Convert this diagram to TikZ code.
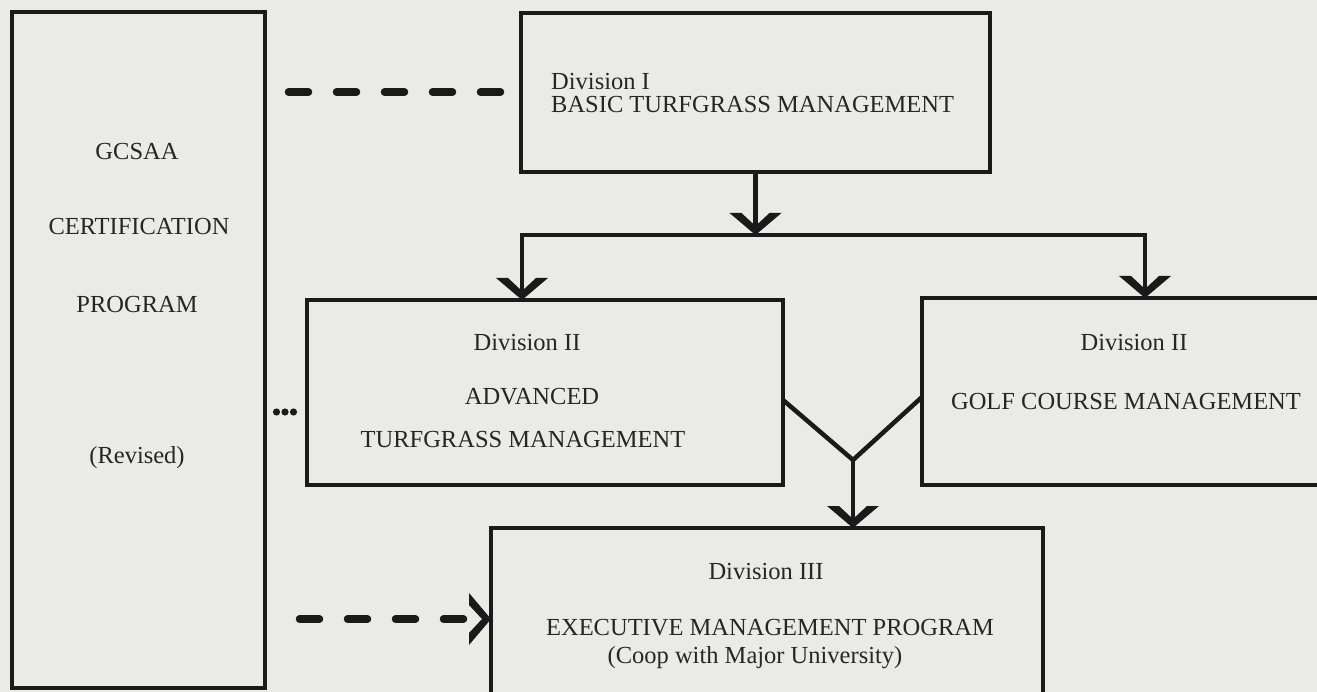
\documentclass[tikz,border=0pt]{standalone}
\usepackage{fontspec}
\setmainfont{Liberation Serif}
\usetikzlibrary{arrows.meta,calc}
\definecolor{paper}{RGB}{234,234,231}
\definecolor{ink}{RGB}{26,26,26}
\definecolor{txt}{RGB}{38,38,38}
\pgfdeclarearrow{
  name = Chev,
  setup code = {
    \pgfarrowssettipend{0pt}
    \pgfarrowssetlineend{-5pt}
    \pgfarrowssetvisualbackend{-22pt}
    \pgfarrowssetbackend{-22pt}
    \pgfarrowshullpoint{0pt}{0pt}
    \pgfarrowshullpoint{-22pt}{26pt}
    \pgfarrowshullpoint{-22pt}{-26pt}
  },
  drawing code = {
    \pgfpathmoveto{\pgfqpoint{0pt}{0pt}}
    \pgfpathlineto{\pgfqpoint{-22pt}{26pt}}
    \pgfpathlineto{\pgfqpoint{-22pt}{14pt}}
    \pgfpathlineto{\pgfqpoint{-9pt}{0pt}}
    \pgfpathlineto{\pgfqpoint{-22pt}{-14pt}}
    \pgfpathlineto{\pgfqpoint{-22pt}{-26pt}}
    \pgfpathclose
    \pgfusepathqfill
  },
  parameters = {Chev},
}
\tikzset{
  divbox/.style={draw=ink, line width=4.5pt, inner sep=0pt, outer sep=0pt, rectangle},
  conn/.style={color=ink, line width=4.5pt, line join=miter},
  dashconn/.style={color=ink, line width=7.5pt, line cap=round, dash pattern=on 20pt off 28pt},
  lbl/.style={text=txt, inner sep=0pt, font=\fontsize{24.5}{23}\selectfont},
}
\begin{document}
\begin{tikzpicture}[x=1pt,y=-1pt]
\useasboundingbox (0,0) rectangle (1317,692);
\clip (0,0) rectangle (1317,692);
\fill[paper] (0,0) rectangle (1317,692);

% boxes
\node[divbox, minimum width=253pt, minimum height=676pt] (L) at (138.5,350) {};
\node[divbox, minimum width=469pt, minimum height=159pt] (D1) at (755.5,92.5) {};
\node[divbox, minimum width=476pt, minimum height=185pt] (D2a) at (545,392.5) {};
\node[divbox, minimum width=418pt, minimum height=187pt] (D2g) at (1131,391.5) {};
\node[divbox, minimum width=552pt, minimum height=192pt] (D3) at (767,624) {};

% texts of the left box
\node[lbl] (t1) at (137,152) {GCSAA};
\node[lbl] (t2) at (139,227) {CERTIFICATION};
\node[lbl] (t3) at (137,305) {PROGRAM};
\node[lbl] (t4) at (137,458) {(Revised)};

% Division I
\node[lbl, anchor=west, align=left] (d1t) at (551,93) {Division I\\BASIC TURFGRASS MANAGEMENT};

% Division II advanced
\node[lbl] (d2a1) at (527,343) {Division II};
\node[lbl] (d2a2) at (532,397) {ADVANCED};
\node[lbl] (d2a3) at (523,440) {TURFGRASS MANAGEMENT};

% Division II golf
\node[lbl] (d2g1) at (1134,343) {Division II};
\node[lbl] (d2g2) at (1126,402) {GOLF COURSE MANAGEMENT};

% Division III
\node[lbl] (d31) at (766,572) {Division III};
\node[lbl] (d32) at (770,628) {EXECUTIVE MANAGEMENT PROGRAM};
\node[lbl] (d33) at (755,658) {(Coop with Major University)};

% dots
\node[inner sep=0pt, minimum size=26pt] (dots) at (285,412) {};
\foreach \dx in {-8.5,0,8.5} \fill[ink] ($(dots.center)+(\dx,0)$) circle (3.6pt);

% connectors
\coordinate (dA) at (288.5,92);
\coordinate (dB) at (500.5,92);
\draw[dashconn] (dA) -- (dB);

\coordinate (bM) at (D1.south |- 0,235);
\coordinate (bL) at (522,235);
\coordinate (bR) at (1145,235);
\draw[conn, -Chev] (D1.south) -- (bM);
\draw[conn, Chev-Chev] (bL |- D2a.north) -- (bL) -- (bR) -- (bR |- D2g.north);

\coordinate (yA) at (783,400);
\coordinate (yB) at (922,397);
\coordinate (yJ) at (853,460);
\draw[conn] (yA) -- (yJ) -- (yB);
\draw[conn, -Chev] (yJ) -- (yJ |- D3.north);

\coordinate (dC) at (299.5,619);
\draw[dashconn, -Chev] (dC) -- (D3.west |- dC);
\end{tikzpicture}
\end{document}
